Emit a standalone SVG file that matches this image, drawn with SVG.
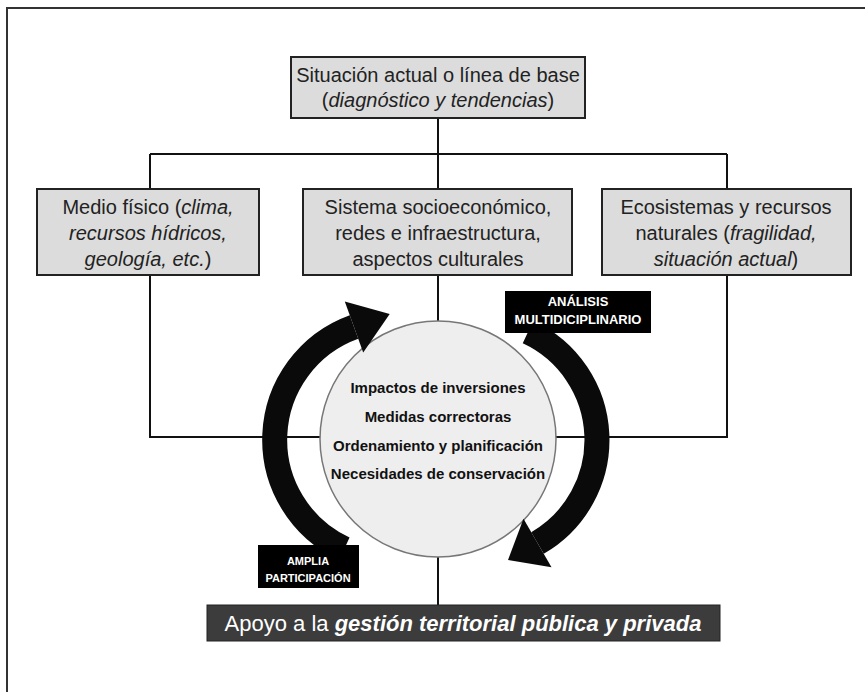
<svg xmlns="http://www.w3.org/2000/svg" width="865" height="692" viewBox="0 0 865 692">
<style>
.box{fill:#dcdcdc;stroke:#222;stroke-width:2}
.t{font-family:"Liberation Sans",Arial,sans-serif;font-size:20px;fill:#222;text-anchor:middle}
.ct{font-family:"Liberation Sans",Arial,sans-serif;font-size:15px;font-weight:bold;fill:#111;text-anchor:middle}
.lb{font-family:"Liberation Sans",Arial,sans-serif;font-weight:bold;fill:#fff;text-anchor:middle}
.ln{fill:none;stroke:#111;stroke-width:2}
.arc{fill:none;stroke:#0a0a0a;stroke-width:25}
</style>
<rect x="0" y="0" width="865" height="692" fill="#fff"/>
<path d="M7 692 V8 H865" fill="none" stroke="#333" stroke-width="2"/>

<g id="connectors">
<path class="ln" d="M438 118 V154 M150 154 H727 M150 154 V189 M438 154 V189 M727 154 V189"/>
<path class="ln" d="M150 275 V437 H322 M727 275 V437 H554 M438 275 V322 M438 557 V605"/>
</g>

<g id="n-situacion">
<rect class="box" x="291" y="57" width="294" height="61"/>
<text class="t" x="438" y="82" font-size="19">Situación actual o línea de base</text>
<text class="t" x="438" y="107" font-size="19">(<tspan font-style="italic">diagnóstico y tendencias</tspan>)</text>
</g>

<g id="n-medio">
<rect class="box" x="37" y="189" width="222" height="86"/>
<text class="t" x="148" y="214">Medio físico (<tspan font-style="italic">clima,</tspan></text>
<text class="t" x="148" y="240" font-style="italic">recursos hídricos,</text>
<text class="t" x="148" y="266"><tspan font-style="italic">geología, etc.</tspan>)</text>
</g>

<g id="n-sistema">
<rect class="box" x="303" y="189" width="269" height="86"/>
<text class="t" x="438" y="214">Sistema socioeconómico,</text>
<text class="t" x="438" y="240">redes e infraestructura,</text>
<text class="t" x="438" y="266">aspectos culturales</text>
</g>

<g id="n-ecosistemas">
<rect class="box" x="602" y="189" width="249" height="86"/>
<text class="t" x="726" y="214">Ecosistemas y recursos</text>
<text class="t" x="726" y="240">naturales (<tspan font-style="italic">fragilidad,</tspan></text>
<text class="t" x="726" y="266"><tspan font-style="italic">situación actual</tspan>)</text>
</g>

<g id="n-centro">
<circle cx="438" cy="439" r="118" fill="#eeeeee" stroke="#777" stroke-width="1.5"/>
<text class="ct" x="438" y="393">Impactos de inversiones</text>
<text class="ct" x="438" y="422">Medidas correctoras</text>
<text class="ct" x="438" y="451">Ordenamiento y planificación</text>
<text class="ct" x="438" y="479">Necesidades de conservación</text>
</g>

<g id="arrow-left">
<path class="arc" d="M344.3 548.8 A120 120 0 0 1 354 327"/>
<polygon points="344.8,301.6 389.7,314 363.2,352.4" fill="#0a0a0a"/>
</g>

<g id="arrow-right">
<path class="arc" d="M528 332 A119 119 0 0 1 537.5 543"/>
<polygon points="523.5,518.8 508,560 551.5,567.2" fill="#0a0a0a"/>
</g>

<g id="n-analisis">
<rect x="505" y="291" width="146" height="42" fill="#000"/>
<text class="lb" x="578" y="306" font-size="13">ANÁLISIS</text>
<text class="lb" x="578" y="324" font-size="13">MULTIDICIPLINARIO</text>
</g>

<g id="n-amplia">
<rect x="258" y="545" width="101" height="43" fill="#000"/>
<text class="lb" x="308" y="565" font-size="11">AMPLIA</text>
<text class="lb" x="308" y="582" font-size="11">PARTICIPACIÓN</text>
</g>

<g id="n-apoyo">
<rect x="207" y="605" width="513" height="36" fill="#3c3c3c" stroke="#222" stroke-width="1"/>
<text x="463" y="631" font-family="'Liberation Sans',Arial,sans-serif" font-size="22" fill="#fff" text-anchor="middle">Apoyo a la <tspan font-weight="bold" font-style="italic">gestión territorial pública y privada</tspan></text>
</g>
</svg>
